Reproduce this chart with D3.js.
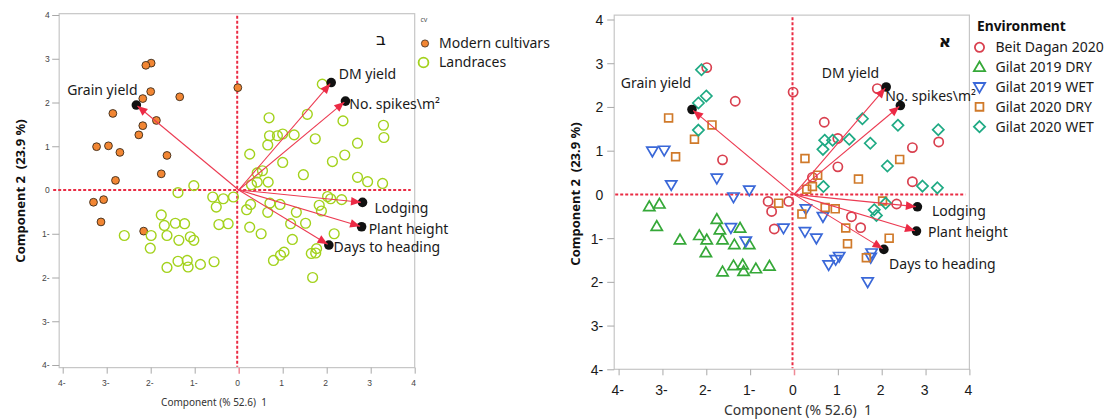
<!DOCTYPE html>
<html>
<head>
<meta charset="utf-8">
<script src="https://cdn.jsdelivr.net/npm/d3@7"></script>
<style>
    body { margin: 0; background: #fff; }
    svg { font-family: "Noto Sans", "DejaVu Sans", sans-serif; }
    text { white-space: pre; }
</style>
</head>
<body>
<svg id="chart" width="1110" height="419"></svg>
<script>
'use strict';

// PCA scores per environment: [component 1, component 2, cv]  (M = modern cultivar, L = landrace)
var beitDagan2020 = [
    [-1.99, 2.90, "M"], [-1.34, 2.13, "M"], [-0.02, 2.34, "M"], [-1.63, 0.79, "M"],
    [1.90, 2.42, "L"], [0.69, 1.65, "L"], [3.30, 1.20, "L"], [1.00, 1.28, "L"], [2.70, 1.07, "L"],
    [1.00, 0.63, "L"], [0.42, 0.39, "L"], [2.70, 0.29, "L"], [-0.59, -0.16, "L"], [-0.51, -0.39, "L"],
    [-0.12, -0.16, "L"], [-0.45, -0.79, "L"], [2.34, -0.22, "L"], [1.31, -0.51, "L"], [1.52, -0.76, "L"]
];
var gilat2019Dry = [
    [-3.30, -0.28, "M"], [-3.07, -0.22, "M"], [-3.13, -0.73, "M"], [-2.16, -0.94, "M"],
    [-2.60, -1.04, "L"], [-1.99, -1.04, "L"], [-2.01, -1.33, "L"], [-1.76, -0.57, "L"], [-1.69, -0.81, "L"],
    [-1.63, -1.04, "L"], [-1.23, -0.77, "L"], [-1.36, -1.15, "L"], [-1.02, -1.15, "L"], [-1.63, -1.77, "L"],
    [-1.38, -1.63, "L"], [-1.17, -1.61, "L"], [-1.15, -1.76, "L"], [-0.87, -1.70, "L"], [-0.56, -1.64, "L"]
];
var gilat2019Wet = [
    [-3.23, 0.99, "M"], [-2.96, 1.01, "M"], [-1.76, 0.37, "M"], [-2.80, 0.22, "M"],
    [-1.38, -0.06, "L"], [-1.02, 0.10, "L"], [-1.44, -0.76, "L"], [-1.10, -1.07, "L"], [-0.24, -0.77, "L"],
    [0.27, -0.33, "L"], [0.66, -0.51, "L"], [0.25, -0.85, "L"], [0.51, -1.00, "L"], [1.03, -1.42, "L"],
    [0.95, -1.49, "L"], [0.79, -1.61, "L"], [1.77, -1.34, "L"], [1.75, -1.44, "L"], [1.68, -2.00, "L"]
];
var gilat2020Dry = [
    [-2.86, 1.75, "M"], [-1.87, 1.59, "M"], [-2.27, 1.26, "M"], [-2.70, 0.86, "M"],
    [0.25, 0.82, "L"], [2.41, 0.80, "L"], [0.54, 0.44, "L"], [1.47, 0.35, "L"], [0.42, 0.18, "L"],
    [0.29, 0.12, "L"], [-0.35, -0.20, "L"], [2.02, -0.15, "L"], [0.18, -0.45, "L"], [0.71, -0.30, "L"],
    [0.94, -0.33, "L"], [1.18, -0.77, "L"], [1.22, -1.13, "L"], [2.17, -1.00, "L"], [1.65, -1.45, "L"]
];
var gilat2020Wet = [
    [-2.11, 2.85, "M"], [-2.00, 2.25, "M"], [-2.18, 2.09, "M"], [-2.18, 1.47, "M"],
    [1.56, 1.73, "L"], [2.37, 1.58, "L"], [3.29, 1.48, "L"], [0.70, 1.24, "L"], [0.88, 1.24, "L"],
    [1.26, 1.26, "L"], [0.66, 1.03, "L"], [1.74, 1.17, "L"], [2.13, 0.65, "L"], [0.67, 0.18, "L"],
    [2.93, 0.19, "L"], [3.27, 0.15, "L"], [2.09, -0.20, "L"], [1.83, -0.35, "L"], [1.88, -0.48, "L"]
];

var environmentNames = ["Beit Dagan 2020", "Gilat 2019 DRY", "Gilat 2019 WET", "Gilat 2020 DRY", "Gilat 2020 WET"];
var environmentScores = [beitDagan2020, gilat2019Dry, gilat2019Wet, gilat2020Dry, gilat2020Wet];
var cvCodes = ["M", "L"];
var cvNames = ["Modern cultivars", "Landraces"];

// trait loadings (arrows)
var traitNames = ["Grain yield", "DM yield", "No. spikes\\m\u00b2", "Lodging", "Plant height", "Days to heading"];
var traitPC1 = [-2.30, 2.08, 2.40, 2.78, 2.76, 2.02];
var traitPC2 = [1.92, 2.43, 2.01, -0.28, -0.83, -1.24];

var axisTicks = [-4, -3, -2, -1, 0, 1, 2, 3, 4];
var xTitle = "Component (% 52.6)  1";
var yTitle = "Component 2  (23.9 %)";

var envColors = ["#d9404f", "#35a838", "#3a68d8", "#d07a2a", "#1faa84"];
var envShapes = ["circle", "up", "down", "square", "diamond"];

function shapePath(type) {
    if (type === "circle") return "M4.6,0A4.6,4.6 0 1,1 -4.6,0A4.6,4.6 0 1,1 4.6,0Z";
    if (type === "up") return "M0,-5.6L5.6,4L-5.6,4Z";
    if (type === "down") return "M0,5.6L5.6,-4L-5.6,-4Z";
    if (type === "square") return "M-3.9,-3.9H3.9V3.9H-3.9Z";
    return "M0,-5.6L5.6,0L0,5.6L-5.6,0Z";
}

function tickLabel(d) {
    return d < 0 ? (-d) + "-" : String(d);
}

function biplot() {
    var opts = {};

    function display(selection) {
        selection.each(function () {
            var g = d3.select(this);
            var x = d3.scaleLinear().domain([-4, 4]).range(opts.xRange);
            var y = d3.scaleLinear().domain([-4, 4]).range(opts.yRange);
            var fL = x(opts.frameX[0]), fR = x(opts.frameX[1]);
            var fT = y(opts.frameY[1]), fB = y(opts.frameY[0]);

            g.append("rect")
                .attr("x", fL).attr("y", fT)
                .attr("width", fR - fL).attr("height", fB - fT)
                .attr("fill", "none")
                .attr("stroke", "#c6c6c6")
                .attr("stroke-width", 1.2);

            var xAxis = g.append("g")
                .attr("transform", "translate(0," + fB + ")")
                .call(d3.axisBottom(x).tickValues(axisTicks).tickSize(6).tickFormat(tickLabel));
            var yAxis = g.append("g")
                .attr("transform", "translate(" + fL + ",0)")
                .call(d3.axisLeft(y).tickValues(axisTicks).tickSize(7).tickFormat(tickLabel));

            [xAxis, yAxis].forEach(function (a) {
                a.select(".domain").remove();
                a.selectAll("line").attr("stroke", "#a8a8a8");
                a.selectAll("text")
                    .attr("font-family", "inherit")
                    .attr("font-size", opts.tickFont)
                    .attr("fill", opts.tickFill);
            });
            xAxis.selectAll(".tick").filter(function (d) { return d === 0; })
                .select("line").attr("stroke", "#ef8a96").attr("stroke-width", 1.5);
            xAxis.selectAll("text").attr("y", opts.xTickY).attr("dy", "0.35em").attr("dx", -1.5);
            yAxis.selectAll("text").attr("x", opts.yTickX).attr("dy", "0.35em");
            yAxis.selectAll(".tick").filter(function (d) { return d === 0; })
                .select("line").remove();

            // zero reference lines
            g.append("line")
                .attr("x1", x(0) - 1.5).attr("x2", x(0) - 1.5)
                .attr("y1", fT + 2).attr("y2", fB - 1)
                .attr("stroke", "#ea2c44").attr("stroke-width", 2)
                .attr("stroke-dasharray", "3,2");
            g.append("line")
                .attr("x1", fL + opts.hLineStart).attr("x2", fR - 4)
                .attr("y1", y(0)).attr("y2", y(0))
                .attr("stroke", "#ea2c44").attr("stroke-width", 2)
                .attr("stroke-dasharray", "3,2");

            // scores
            var pts = g.append("g");
            environmentScores.forEach(function (rows, e) {
                rows.forEach(function (r) {
                    if (opts.byCv) {
                        var modern = r[2] === cvCodes[0];
                        pts.append("circle")
                            .attr("cx", x(r[0])).attr("cy", y(r[1]))
                            .attr("r", modern ? 3.9 : 4.9)
                            .attr("fill", modern ? "#f28633" : "none")
                            .attr("stroke", modern ? "#3a2a1a" : "#a3d21c")
                            .attr("stroke-width", modern ? 0.9 : 1.4);
                    } else {
                        pts.append("path")
                            .attr("d", shapePath(envShapes[e]))
                            .attr("transform", "translate(" + x(r[0]) + "," + y(r[1]) + ")")
                            .attr("fill", "none")
                            .attr("stroke", envColors[e])
                            .attr("stroke-width", 1.7);
                    }
                });
            });

            // loading arrows
            var arrows = g.append("g");
            traitNames.forEach(function (name, i) {
                var ex = x(traitPC1[i]), ey = y(traitPC2[i]);
                var ox = x(0), oy = y(0);
                var ang = Math.atan2(ey - oy, ex - ox);
                arrows.append("circle")
                    .attr("cx", ex + 1.5 * Math.cos(ang)).attr("cy", ey + 1.5 * Math.sin(ang))
                    .attr("r", 4.8).attr("fill", "#111");
                arrows.append("line")
                    .attr("x1", ox).attr("y1", oy).attr("x2", ex).attr("y2", ey)
                    .attr("stroke", "#ec3b52").attr("stroke-width", 1.1);
                var len = 10, hw = 4.3;
                var bx = ex - len * Math.cos(ang), by = ey - len * Math.sin(ang);
                var px = -Math.sin(ang) * hw, py = Math.cos(ang) * hw;
                arrows.append("path")
                    .attr("d", "M" + ex + "," + ey + "L" + (bx + px) + "," + (by + py) + "L" + (bx - px) + "," + (by - py) + "Z")
                    .attr("fill", "#ec2a45");
                var off = opts.labelOffsets[i];
                arrows.append("text")
                    .attr("x", ex + off[0]).attr("y", ey + off[1])
                    .attr("text-anchor", off[2])
                    .attr("font-size", 14)
                    .attr("fill", "#1a1a1a")
                    .text(name);
            });

            // axis titles
            g.append("text")
                .attr("x", opts.xTitlePos[0]).attr("y", opts.xTitlePos[1])
                .attr("text-anchor", "middle")
                .attr("font-size", opts.xTitleFont)
                .attr("fill", "#333")
                .text(xTitle);
            g.append("text")
                .attr("transform", "translate(" + opts.yTitlePos[0] + "," + opts.yTitlePos[1] + ") rotate(-90)")
                .attr("text-anchor", "middle")
                .attr("dy", "0.35em")
                .attr("font-size", 13)
                .attr("font-weight", "bold")
                .attr("fill", "#111")
                .text(yTitle);

            g.append("text")
                .attr("x", opts.letterPos[0]).attr("y", opts.letterPos[1])
                .attr("text-anchor", "middle")
                .attr("font-size", 17)
                .attr("font-weight", opts.letterWeight)
                .attr("fill", "#111")
                .text(opts.letter);
        });
    }

    display.options = function (value) {
        if (!arguments.length) return opts;
        opts = value;
        return display;
    };

    return display;
}

var svg = d3.select("#chart");

svg.append("g").call(biplot().options({
    byCv: true,
    xRange: [62.7, 414.7], yRange: [365, 15],
    frameX: [-4.08, 4.0], frameY: [-4.06, 4.03],
    tickFont: 8.5, tickFill: "#444", xTickY: 15, yTickX: -9.5,
    hLineStart: -6,
    xTitleFont: 10, xTitlePos: [214, 405.5],
    yTitlePos: [20, 191],
    letter: "\u05d1", letterWeight: "normal", letterPos: [381, 45],
    labelOffsets: [[0, -11, "end"], [8.5, -5, "start"], [5, 6.5, "start"], [13.5, 10.5, "start"], [8.5, 7.5, "start"], [6, 7.5, "start"]]
}));

svg.append("g").call(biplot().options({
    byCv: false,
    xRange: [618.6, 969.4], yRange: [369.3, 19.5],
    frameX: [-4.1, 4.0], frameY: [-4.0, 4.1],
    tickFont: 14, tickFill: "#1a1a1a", xTickY: 21, yTickX: -11,
    hLineStart: 1,
    xTitleFont: 14, xTitlePos: [798, 415],
    yTitlePos: [575, 194],
    letter: "\u05d0", letterWeight: "bold", letterPos: [945, 47],
    labelOffsets: [[-2, -22.5, "end"], [-6, -9.7, "end"], [-14, -5.5, "start"], [16, 9, "start"], [13, 6.5, "start"], [6.5, 20.5, "start"]]
}));

// legend: cv (left panel)
var cvLegend = svg.append("g");
cvLegend.append("text").attr("x", 420.5).attr("y", 22).attr("font-size", 7).attr("fill", "#555").text("cv");
cvNames.forEach(function (name, i) {
    var ly = 43.5 + i * 19;
    cvLegend.append("circle")
        .attr("cx", i === 0 ? 425 : 423.5).attr("cy", ly)
        .attr("r", i === 0 ? 3.6 : 4.9)
        .attr("fill", i === 0 ? "#f28633" : "none")
        .attr("stroke", i === 0 ? "#3a2a1a" : "#a3d21c")
        .attr("stroke-width", i === 0 ? 0.8 : 1.8);
    cvLegend.append("text")
        .attr("x", 439).attr("y", ly).attr("dy", "0.35em")
        .attr("font-size", 14).attr("fill", "#1a1a1a")
        .text(name);
});

// legend: environment (right panel)
var envLegend = svg.append("g");
envLegend.append("text")
    .attr("x", 977).attr("y", 31)
    .attr("font-size", 13.8).attr("font-weight", "bold").attr("fill", "#111")
    .text("Environment");
environmentNames.forEach(function (name, i) {
    var ly = 47.3 + i * 19.85;
    envLegend.append("path")
        .attr("d", shapePath(envShapes[i]))
        .attr("transform", "translate(979.5," + ly + ")")
        .attr("fill", "none").attr("stroke", envColors[i]).attr("stroke-width", 1.8);
    envLegend.append("text")
        .attr("x", 995.5).attr("y", ly).attr("dy", "0.35em")
        .attr("font-size", 14).attr("fill", "#1a1a1a")
        .text(name);
});
</script>
</body>
</html>
